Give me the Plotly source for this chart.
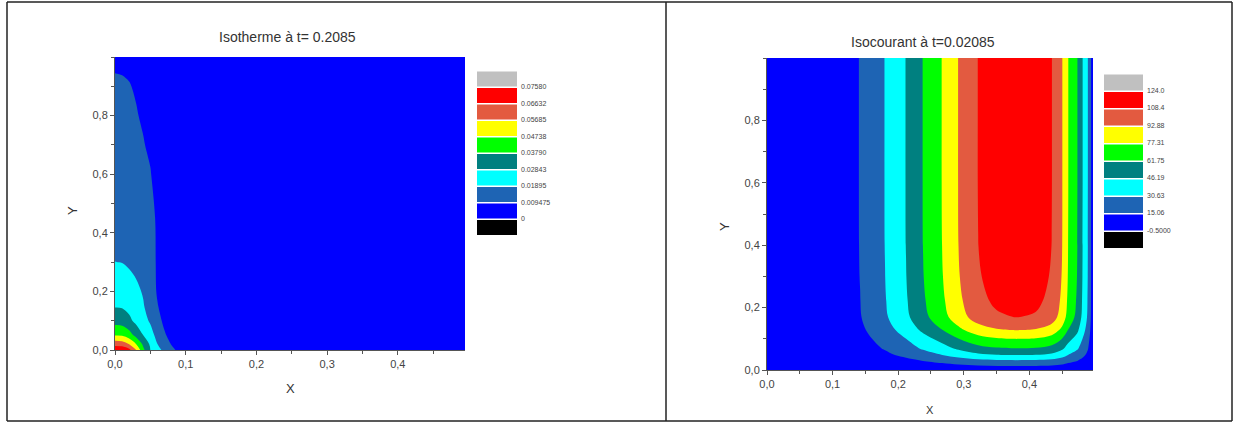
import numpy as np
import plotly.graph_objects as go

W, H = 1236, 423

# ---------------- Left panel: Isotherme ----------------
iso_title = "Isotherme à t= 0.2085"
iso_x = [0.0, 0.01, 0.02, 0.03, 0.04, 0.05, 0.06, 0.07, 0.08, 0.09, 0.10, 0.20, 0.30, 0.40, 0.495]
iso_y = [0.0, 0.02, 0.05, 0.10, 0.15, 0.20, 0.30, 0.45, 0.60, 0.70, 0.80, 0.90, 0.95, 1.00]
iso_T = [
    [0.0740, 0.0735, 0.0690, 0.0569, 0.0400, 0.0284, 0.0220, 0.0165, 0.0118, 0.0075, 0.0040, 0.0001, 0.0001, 0.0001, 0.0001],
    [0.0630, 0.0620, 0.0569, 0.0474, 0.0360, 0.0270, 0.0190, 0.0135, 0.0090, 0.0060, 0.0030, 0.0001, 0.0001, 0.0001, 0.0001],
    [0.0470, 0.0465, 0.0420, 0.0350, 0.0284, 0.0220, 0.0165, 0.0105, 0.0065, 0.0040, 0.0020, 0.0001, 0.0001, 0.0001, 0.0001],
    [0.0340, 0.0335, 0.0305, 0.0260, 0.0215, 0.0180, 0.0125, 0.0075, 0.0040, 0.0020, 0.0010, 0.0001, 0.0001, 0.0001, 0.0001],
    [0.0278, 0.0275, 0.0255, 0.0225, 0.0195, 0.0155, 0.0100, 0.0055, 0.0030, 0.0015, 0.0005, 0.0001, 0.0001, 0.0001, 0.0001],
    [0.0240, 0.0237, 0.0220, 0.0205, 0.0183, 0.0145, 0.0085, 0.0045, 0.0022, 0.0010, 0.0003, 0.0001, 0.0001, 0.0001, 0.0001],
    [0.0190, 0.0188, 0.0180, 0.0168, 0.0152, 0.0125, 0.0085, 0.0045, 0.0022, 0.0010, 0.0003, 0.0001, 0.0001, 0.0001, 0.0001],
    [0.0155, 0.0154, 0.0150, 0.0142, 0.0130, 0.0115, 0.0085, 0.0045, 0.0020, 0.0010, 0.0003, 0.0001, 0.0001, 0.0001, 0.0001],
    [0.0133, 0.0132, 0.0128, 0.0121, 0.0110, 0.0098, 0.0070, 0.0040, 0.0020, 0.0010, 0.0003, 0.0001, 0.0001, 0.0001, 0.0001],
    [0.0122, 0.0121, 0.0117, 0.0110, 0.0098, 0.0085, 0.0060, 0.0035, 0.0018, 0.0008, 0.0002, 0.0001, 0.0001, 0.0001, 0.0001],
    [0.0112, 0.0111, 0.0106, 0.0098, 0.0088, 0.0075, 0.0055, 0.0032, 0.0016, 0.0007, 0.0002, 0.0001, 0.0001, 0.0001, 0.0001],
    [0.0101, 0.0100, 0.0097, 0.0090, 0.0081, 0.0069, 0.0050, 0.0030, 0.0015, 0.0006, 0.0002, 0.0001, 0.0001, 0.0001, 0.0001],
    [0.0094, 0.0093, 0.0090, 0.0084, 0.0076, 0.0065, 0.0047, 0.0028, 0.0014, 0.0006, 0.0002, 0.0001, 0.0001, 0.0001, 0.0001],
    [0.0088, 0.0087, 0.0084, 0.0079, 0.0071, 0.0061, 0.0044, 0.0026, 0.0013, 0.0005, 0.0002, 0.0001, 0.0001, 0.0001, 0.0001],
]
iso_levels_start, iso_levels_end, iso_levels_step = 0.0, 0.0758, 0.009475
iso_legend_labels = ["0", "0.009475", "0.01895", "0.02843", "0.03790",
                     "0.04738", "0.05685", "0.06632", "0.07580"]

# ---------------- Right panel: Isocourant (profiles) ----------------
cur_title = "Isocourant à t=0.02085"
cur_x = [0.0, 0.05, 0.10, 0.142, 0.18, 0.212, 0.238, 0.267, 0.292, 0.322, 0.35,
         0.38, 0.41, 0.434, 0.45, 0.459, 0.473, 0.481, 0.489, 0.494, 0.497]
cur_psi_top = [0.0, 1.0, 6.0, 15.5, 31.0, 46.6, 62.2, 77.7, 93.3, 108.8, 115.5,
               118.0, 116.0, 108.8, 93.3, 77.7, 62.2, 46.6, 31.0, 15.5, 0.0]
cur_y = [0.0, 0.013, 0.032, 0.048, 0.07, 0.10, 0.128, 0.17, 0.22, 0.30, 0.40, 0.60, 0.80, 1.00]
cur_y_ratio = [0.0, 0.13, 0.262, 0.393, 0.525, 0.657, 0.79, 0.922, 0.96, 0.985, 0.996, 1.0, 1.0, 1.0]
cur_levels_start, cur_levels_end, cur_levels_step = -0.5, 124.0, 15.5625
cur_legend_labels = ["-0.5000", "15.06", "30.63", "46.19", "61.75",
                     "77.31", "92.88", "108.4", "124.0"]
cur_psi = np.outer(cur_y_ratio, cur_psi_top)

# ---------------- Shared styling ----------------
band_colors = ["#000000", "#0000ff", "#1e64b4", "#00ffff", "#008080",
               "#00ff00", "#ffff00", "#e35a40", "#ff0000", "#c0c0c0"]
tick_vals = [0.0, 0.1, 0.2, 0.3, 0.4]
x_tick_text = ["0,0", "0,1", "0,2", "0,3", "0,4"]
y_tick_vals = [0.0, 0.2, 0.4, 0.6, 0.8]
y_tick_text = ["0,0", "0,2", "0,4", "0,6", "0,8"]

n = len(band_colors)
cscale = []
for i, c in enumerate(band_colors):
    lo = max(0.0, (i - 0.5) / (n - 1))
    hi = min(1.0, (i + 0.5) / (n - 1))
    cscale += [[lo, c], [hi, c]]

FONT = "Liberation Sans, Arial, sans-serif"

def px(x):
    return x / W

def py(y):
    return 1 - y / H

fig = go.Figure()
fig.add_trace(go.Contour(
    x=iso_x, y=iso_y, z=iso_T, autocontour=False,
    contours=dict(start=iso_levels_start, end=iso_levels_end, size=iso_levels_step,
                  coloring="fill", showlines=False),
    line=dict(width=0, smoothing=1.0), colorscale=cscale, showscale=False,
    xaxis="x", yaxis="y", hoverinfo="skip"))
fig.add_trace(go.Contour(
    x=cur_x, y=cur_y, z=cur_psi, autocontour=False,
    contours=dict(start=cur_levels_start, end=cur_levels_end, size=cur_levels_step,
                  coloring="fill", showlines=False),
    line=dict(width=0, smoothing=1.0), colorscale=cscale, showscale=False,
    xaxis="x2", yaxis="y2", hoverinfo="skip"))

axis_common = dict(showgrid=False, zeroline=False, showline=True, linecolor="#555",
                   linewidth=1, ticks="outside", ticklen=4, tickcolor="#555",
                   tickfont=dict(family=FONT, size=11, color="#444"), mirror=False,
                   automargin=False)

fig.update_layout(
    width=W, height=H, autosize=False, margin=dict(l=0, r=0, t=0, b=0, pad=0, autoexpand=False),
    paper_bgcolor="white", plot_bgcolor="white", showlegend=False,
    xaxis=dict(domain=[px(115), px(465)], range=[0, 0.495], anchor="y",
               tickvals=tick_vals, ticktext=x_tick_text,
               minor=dict(dtick=0.05, tick0=0, ticks="outside", ticklen=3, tickcolor="#555"),
               **axis_common),
    yaxis=dict(domain=[py(350), py(57)], range=[0, 1.0], anchor="x",
               tickvals=y_tick_vals, ticktext=y_tick_text,
               minor=dict(dtick=0.1, tick0=0, ticks="outside", ticklen=3, tickcolor="#555"),
               **axis_common),
    xaxis2=dict(domain=[px(767), px(1093)], range=[0, 0.497], anchor="y2",
                tickvals=tick_vals, ticktext=x_tick_text,
                minor=dict(dtick=0.05, tick0=0, ticks="outside", ticklen=3, tickcolor="#555"),
                **axis_common),
    yaxis2=dict(domain=[py(370), py(58)], range=[0, 1.0], anchor="x2",
                tickvals=y_tick_vals, ticktext=y_tick_text,
                minor=dict(dtick=0.1, tick0=0, ticks="outside", ticklen=3, tickcolor="#555"),
                **axis_common),
)

shapes = []
annotations = []

# Panel frames
frame = dict(type="line", xref="paper", yref="paper", line=dict(color="#222", width=1.5))
for (x0, y0, x1, y1) in [(7, 2, 1232, 2), (7, 421, 1232, 421), (7, 2, 7, 421),
                         (666, 2, 666, 421), (1232, 2, 1232, 421)]:
    shapes.append(dict(frame, x0=px(x0), y0=py(y0), x1=px(x1), y1=py(y1)))

# Discrete legends
def add_legend(x0, x1, ytop, ybot, labels, lab_x):
    h = (ybot - ytop) / len(band_colors)
    for j, c in enumerate(band_colors):
        yb = ybot - j * h
        yt = yb - h + 1.5
        shapes.append(dict(type="rect", xref="paper", yref="paper",
                           x0=px(x0), x1=px(x1), y0=py(yb), y1=py(yt),
                           fillcolor=c, line=dict(width=0)))
    for k, lab in enumerate(labels):
        yb = ybot - (k + 1) * h
        annotations.append(dict(x=px(lab_x), y=py(yb), xref="paper", yref="paper",
                                text=lab, showarrow=False, xanchor="left", yanchor="middle",
                                font=dict(family=FONT, size=7, color="#444")))

add_legend(477, 517, 70, 235, iso_legend_labels, 519)
add_legend(1104, 1143, 73, 248, cur_legend_labels, 1145)

# Titles and axis titles
def text(x, y, s, size, angle=0):
    annotations.append(dict(x=px(x), y=py(y), xref="paper", yref="paper", text=s,
                            showarrow=False, xanchor="center", yanchor="middle",
                            textangle=angle, font=dict(family=FONT, size=size, color="#333")))

text(287, 37, iso_title, 14)
text(923, 42, cur_title, 14)
text(290, 388, "X", 13)
text(73, 211, "Y", 13, -90)
text(724, 227, "Y", 13, -90)
text(930, 410, "X", 11)

fig.update_layout(shapes=shapes, annotations=annotations)
fig.write_html("out.html",
               config={"displayModeBar": False, "responsive": False},
               post_script="document.body.style.margin='0';document.body.style.overflow='hidden';")
